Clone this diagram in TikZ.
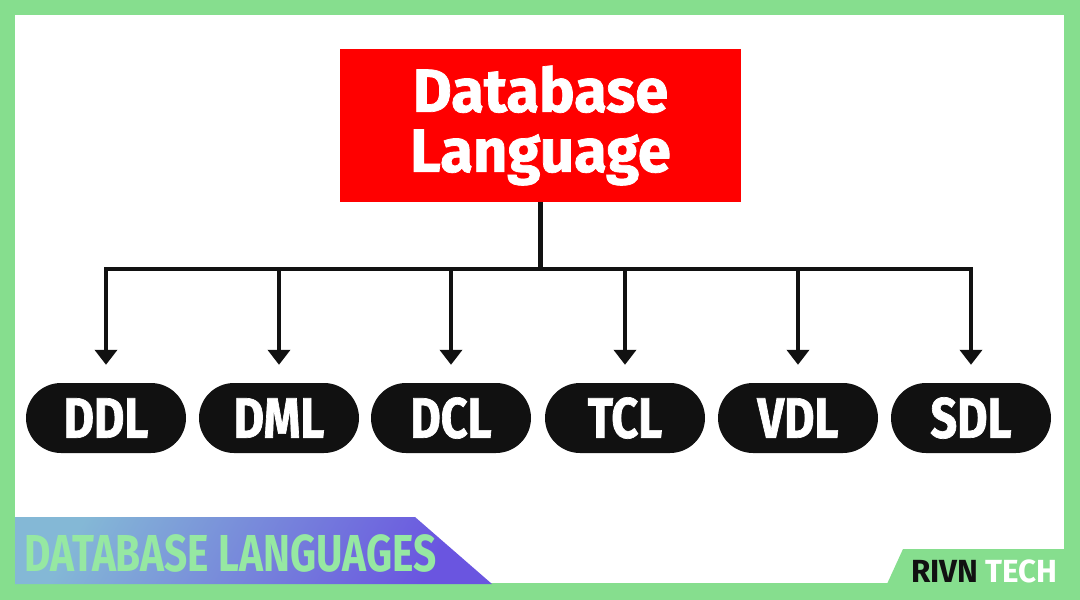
\documentclass[tikz,border=0pt]{standalone}
\usepackage{fontspec}
\usetikzlibrary{arrows.meta}
\newfontfamily\headfont[FakeStretch=0.98,FakeBold=1.2]{Fira Sans}
\newfontfamily\pillfont[FakeStretch=0.82,FakeBold=1.2]{Fira Sans}
\newfontfamily\bannerfont[FakeStretch=0.78]{Fira Sans}
\newfontfamily\tagfont[FakeStretch=0.98]{Fira Sans}
\definecolor{bordergreen}{HTML}{86DE8E}
\definecolor{textgreen}{HTML}{96E8A2}
\definecolor{boxred}{HTML}{FF0000}
\definecolor{pillblack}{HTML}{111111}
\definecolor{bannerblue}{HTML}{84B8D6}
\definecolor{bannerpurple}{HTML}{6A55E0}
\tikzset{
  rootbox/.style={rectangle, fill=boxred, text=white, minimum width=401pt, minimum height=153pt,
    align=center, inner sep=0pt, font=\headfont\bfseries\fontsize{61}{60}\selectfont},
  pill/.style={rectangle, rounded corners=35pt, fill=pillblack, text=white, minimum width=160pt,
    minimum height=70pt, inner sep=0pt, font=\pillfont\bfseries\fontsize{57}{57}\selectfont},
  conn/.style={draw=pillblack, line width=4.5pt, line join=miter},
  arrowline/.style={conn, -{Triangle[width=22pt,length=15pt]}, shorten >=18pt},
}
\begin{document}
\begin{tikzpicture}[x=1pt,y=-1pt]
\useasboundingbox (0,0) rectangle (1080,600);
% frame
\fill[bordergreen] (0,0) rectangle (1080,600);
\fill[white] (15,15) rectangle (1064,583);
% banner
\shade[left color=bannerblue, right color=bannerpurple, shading angle=60]
  (15,517) -- (415,517) -- (492,584) -- (15,584) -- cycle;
\node[anchor=base west, inner sep=0pt, text=textgreen, font=\bannerfont\bfseries\fontsize{52}{52}\selectfont] (bannertext) at (24,571) {DATABASE LANGUAGES};
% tag
\fill[bordergreen] (903,549) -- (1064,549) -- (1064,584) -- (887,584) -- cycle;
\node[anchor=base west, inner sep=0pt, font=\tagfont\bfseries\fontsize{32}{32}\selectfont] (tagtext) at (911,582) {\textcolor{pillblack}{RIVN} \textcolor{white}{TECH}};
% root
\node[rootbox] (root) at (540.5,125.5) {Database\\Language};
% pills
\node[pill] (ddl) at (106,418) {DDL};
\node[pill] (dml) at (279,418) {DML};
\node[pill] (dcl) at (451,418) {DCL};
\node[pill] (tcl) at (625,418) {TCL};
\node[pill] (vdl) at (798,418) {VDL};
\node[pill] (sdl) at (971,418) {SDL};
% connectors
\coordinate (j) at (540.5,269);
\draw[conn] (root.south) -- (j);
\foreach \p in {ddl,dml,dcl,tcl,vdl,sdl}
  \draw[arrowline] (j) -| (\p.north);
\end{tikzpicture}
\end{document}
